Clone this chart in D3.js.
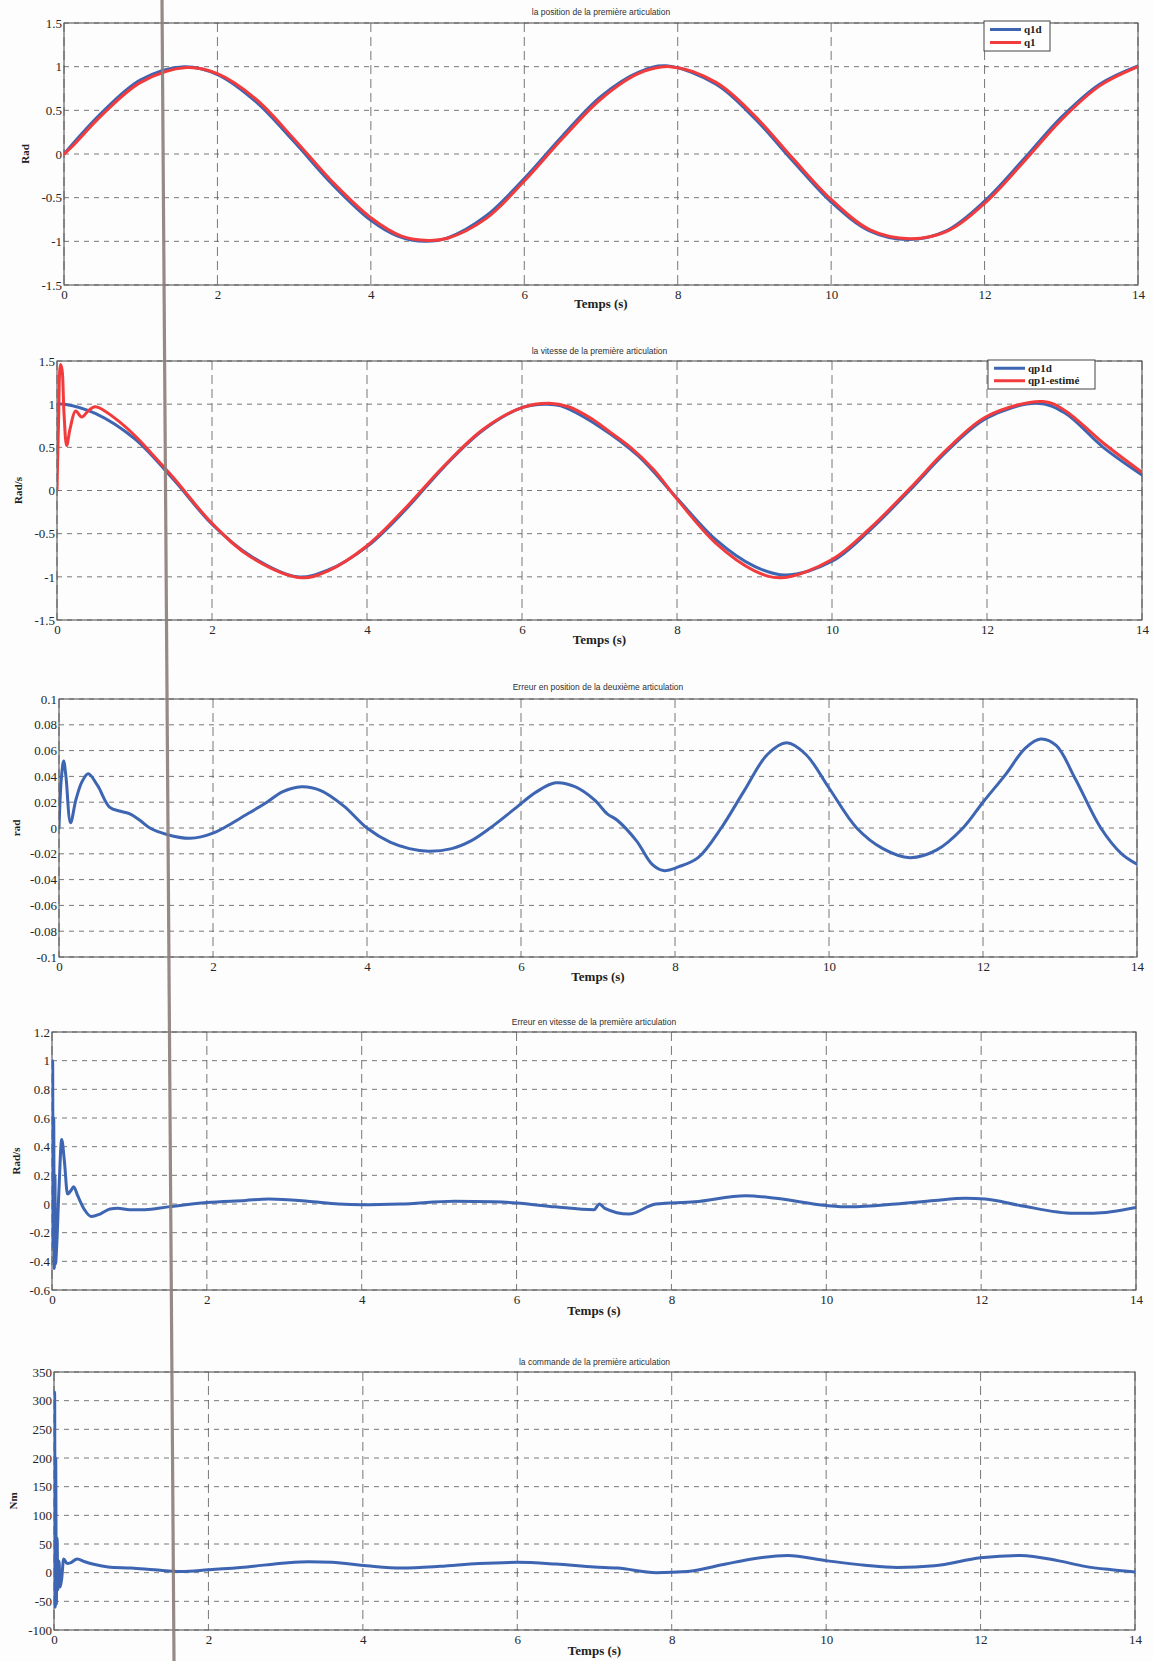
<!DOCTYPE html>
<html>
<head>
<meta charset="utf-8">
<script src="https://cdn.jsdelivr.net/npm/d3@7"></script>
<style>
  body { margin: 0; background: #fdfdfd; }
  svg { display: block; }
  .tick text { font-family: "Liberation Serif", "Times New Roman", serif; font-size: 13px; fill: #262626; }
</style>
</head>
<body>
<div class="visualization"></div>
<script>
// ---- data ----
const timeTicks = [0, 2, 4, 6, 8, 10, 12, 14];
const radTicks = [-1.5, -1, -0.5, 0, 0.5, 1, 1.5];
const errPosTicks = [-0.1, -0.08, -0.06, -0.04, -0.02, 0, 0.02, 0.04, 0.06, 0.08, 0.1];
const errVelTicks = [-0.6, -0.4, -0.2, 0, 0.2, 0.4, 0.6, 0.8, 1, 1.2];
const torqueTicks = [-100, -50, 0, 50, 100, 150, 200, 250, 300, 350];

// position premiere articulation
const q1dT = [0, 0.5, 1, 1.57, 2, 2.5, 3, 3.5, 4, 4.35, 4.71, 5, 5.5, 6, 6.5, 7, 7.5, 7.85, 8.5, 9, 9.5, 10, 10.5, 11, 11.5, 12, 12.5, 13, 13.5, 14];
const q1dV = [0, 0.48, 0.85, 1.0, 0.91, 0.6, 0.14, -0.35, -0.76, -0.94, -1.0, -0.96, -0.71, -0.28, 0.21, 0.66, 0.94, 1.01, 0.8, 0.41, -0.08, -0.55, -0.88, -0.98, -0.88, -0.54, -0.07, 0.42, 0.8, 1.01];
const q1T = [0, 0.1, 0.5, 1, 1.6, 2, 2.5, 3, 3.5, 4, 4.4, 4.75, 5, 5.5, 6, 6.5, 7, 7.5, 7.9, 8.5, 9, 9.5, 10, 10.5, 11.03, 11.5, 12, 12.5, 13, 13.5, 14];
const q1V = [0, 0.08, 0.45, 0.82, 0.99, 0.92, 0.63, 0.17, -0.32, -0.73, -0.94, -0.99, -0.965, -0.74, -0.31, 0.18, 0.63, 0.925, 1.0, 0.82, 0.44, -0.05, -0.52, -0.865, -0.97, -0.89, -0.565, -0.1, 0.39, 0.78, 1.0];

// vitesse premiere articulation
const qp1dT = [0, 0.1, 0.5, 1, 1.5, 2, 2.5, 3.1, 3.5, 4, 4.5, 5, 5.5, 6, 6.3, 6.5, 7, 7.5, 8, 8.5, 9, 9.4, 10, 10.5, 11, 11.5, 12, 12.65, 13, 13.5, 14];
const qp1dV = [1.0, 1.0, 0.89, 0.6, 0.13, -0.39, -0.76, -1.0, -0.92, -0.65, -0.22, 0.28, 0.7, 0.96, 1.0, 0.98, 0.74, 0.4, -0.09, -0.57, -0.88, -0.98, -0.82, -0.45, 0.0, 0.47, 0.84, 1.01, 0.9, 0.5, 0.18];
const qp1eT = [0, 0.02, 0.045, 0.065, 0.09, 0.125, 0.17, 0.24, 0.32, 0.4, 0.49, 0.6, 0.8, 1.0, 1.2, 1.5, 2, 2.5, 3.15, 3.5, 4, 4.5, 5, 5.5, 6, 6.35, 6.6, 6.9, 7.1, 7.4, 7.7, 8, 8.5, 9, 9.35, 10, 10.5, 11, 11.5, 12, 12.72, 13, 13.5, 14];
const qp1eV = [0, 0.8, 1.46, 1.4, 0.9, 0.52, 0.72, 0.92, 0.85, 0.92, 0.97, 0.93, 0.8, 0.64, 0.45, 0.15, -0.38, -0.77, -1.01, -0.93, -0.64, -0.2, 0.29, 0.71, 0.96, 1.01, 0.97, 0.83, 0.7, 0.5, 0.24, -0.1, -0.61, -0.93, -1.01, -0.8, -0.43, 0.02, 0.49, 0.86, 1.03, 0.93, 0.55, 0.21];

// erreur en position
const errPosT = [0, 0.03, 0.06, 0.09, 0.15, 0.22, 0.3, 0.38, 0.5, 0.66, 0.8, 0.92, 1.05, 1.18, 1.4, 1.7, 2.0, 2.45, 2.7, 2.9, 3.15, 3.4, 3.7, 4.0, 4.3, 4.55, 4.8, 5.1, 5.35, 5.6, 5.9, 6.2, 6.45, 6.7, 6.95, 7.12, 7.25, 7.5, 7.7, 7.85, 8.05, 8.3, 8.6, 8.9, 9.2, 9.45, 9.7, 10.0, 10.36, 10.7, 11.05, 11.4, 11.74, 12.0, 12.3, 12.55, 12.75, 12.95, 13.2, 13.53, 13.8, 14];
const errPosV = [0, 0.038, 0.052, 0.04, 0.004, 0.022, 0.036, 0.042, 0.033, 0.016, 0.013, 0.011, 0.006, 0.0, -0.005, -0.008, -0.004, 0.011, 0.02, 0.028, 0.032, 0.029, 0.017, 0.0, -0.011, -0.016, -0.018, -0.016, -0.01, 0.0, 0.014, 0.028, 0.035, 0.032, 0.022, 0.011, 0.006, -0.01, -0.028, -0.033, -0.03, -0.023, 0.0, 0.029, 0.057, 0.066, 0.057, 0.031, 0.0, -0.016, -0.023, -0.017, 0.0, 0.02, 0.042, 0.062, 0.069, 0.064, 0.038, 0.0, -0.02, -0.028];

// erreur en vitesse
const errVelT = [0, 0.008, 0.015, 0.022, 0.03, 0.038, 0.045, 0.06, 0.09, 0.125, 0.16, 0.2, 0.24, 0.28, 0.33, 0.42, 0.51, 0.62, 0.75, 0.85, 1.0, 1.2, 1.5, 2.0, 2.5, 2.8, 3.3, 3.7, 4.0, 4.5, 5.2, 5.7, 6.0, 6.5, 7.0, 7.07, 7.14, 7.45, 7.8, 8.3, 8.96, 9.35, 10.0, 10.3, 10.9, 11.4, 11.8, 12.05, 12.5, 13.2, 13.45, 14];
const errVelV = [0, 1.0, -0.3, 0.6, -0.45, 0.2, -0.42, -0.3, 0.1, 0.45, 0.3, 0.07, 0.09, 0.12, 0.06, -0.04, -0.088, -0.07, -0.035, -0.03, -0.04, -0.04, -0.02, 0.01, 0.025, 0.035, 0.02, 0.0, -0.005, 0.0, 0.02, 0.015, 0.007, -0.02, -0.04, 0.0, -0.03, -0.07, 0.0, 0.015, 0.058, 0.04, -0.01, -0.02, 0.0, 0.025, 0.04, 0.035, -0.01, -0.065, -0.065, -0.025];

// commande
const torqueT = [0, 0.008, 0.015, 0.022, 0.03, 0.04, 0.05, 0.065, 0.08, 0.1, 0.125, 0.17, 0.21, 0.3, 0.4, 0.5, 0.7, 1.0, 1.3, 1.65, 2.0, 2.5, 3.0, 3.3, 3.6, 4.05, 4.5, 5.0, 5.5, 6.0, 6.5, 7.0, 7.3, 7.8, 8.2, 8.7, 9.0, 9.5, 10.0, 10.5, 10.92, 11.4, 12.0, 12.52, 13.0, 13.35, 13.7, 14];
const torqueV = [0, 315, -60, 200, -55, 60, -30, 20, -25, -10, 24, 16, 17, 24, 19, 15, 10, 8, 5, 2, 5, 10, 17, 19, 18, 12, 8, 11, 16, 18, 15, 10, 8, 0, 2, 15, 23, 30, 21, 13, 9, 12, 26, 30, 21, 11, 5, 1];

const BLUE = '#3d65b2';
const RED = '#f23b3d';

const smooth = d3.curveCatmullRom.alpha(0.5);
const spiky = d3.curveMonotoneX;

const panels = [
    {title: 'la position de la première articulation', ylabel: 'Rad', yTicks: radTicks, curve: smooth,
     box: {left: 64, right: 1138, top: 23, bottom: 285}, titleY: 15, xlabelY: 308, ylabelX: 25,
     series: [{t: q1dT, v: q1dV, color: BLUE, name: 'q1d'}, {t: q1T, v: q1V, color: RED, name: 'q1'}],
     legend: {x: 984, y: 21, w: 66, h: 30}},
    {title: 'la vitesse de la première articulation', ylabel: 'Rad/s', yTicks: radTicks, curve: smooth,
     box: {left: 57, right: 1142, top: 361, bottom: 620}, titleY: 354, xlabelY: 644, ylabelX: 18,
     series: [{t: qp1dT, v: qp1dV, color: BLUE, name: 'qp1d'}, {t: qp1eT, v: qp1eV, color: RED, name: 'qp1-estimé'}],
     legend: {x: 988, y: 360, w: 107, h: 29}},
    {title: 'Erreur en position de la deuxième articulation', ylabel: 'rad', yTicks: errPosTicks, curve: smooth,
     box: {left: 59, right: 1137, top: 699, bottom: 957}, titleY: 690, xlabelY: 981, ylabelX: 16,
     series: [{t: errPosT, v: errPosV, color: BLUE}]},
    {title: 'Erreur en vitesse de la première articulation', ylabel: 'Rad/s', yTicks: errVelTicks, curve: spiky,
     box: {left: 52, right: 1136, top: 1032, bottom: 1290}, titleY: 1025, xlabelY: 1315, ylabelX: 16,
     series: [{t: errVelT, v: errVelV, color: BLUE}]},
    {title: 'la commande de la première articulation', ylabel: 'Nm', yTicks: torqueTicks, curve: spiky,
     box: {left: 54, right: 1135, top: 1372, bottom: 1630}, titleY: 1365, xlabelY: 1655, ylabelX: 13,
     series: [{t: torqueT, v: torqueV, color: BLUE}]}
];

const W = 1153, H = 1661;
const svg = d3.select('.visualization').append('svg')
    .attr('width', W)
    .attr('height', H);

const fmt = d => String(+d.toFixed(2));

panels.forEach((p, i) => {
    const b = p.box;
    const x = d3.scaleLinear().domain([0, 14]).range([b.left, b.right]);
    const y = d3.scaleLinear().domain(d3.extent(p.yTicks)).range([b.bottom, b.top]);
    const g = svg.append('g').attr('class', 'panel');

    // grid
    g.append('g')
        .selectAll('line')
        .data(p.yTicks)
        .enter().append('line')
        .attr('x1', b.left).attr('x2', b.right)
        .attr('y1', d => y(d)).attr('y2', d => y(d))
        .style('stroke', '#555')
        .style('stroke-width', 0.8)
        .style('stroke-dasharray', '5,5');
    g.append('g')
        .selectAll('line')
        .data(timeTicks)
        .enter().append('line')
        .attr('y1', b.top).attr('y2', b.bottom)
        .attr('x1', d => x(d)).attr('x2', d => x(d))
        .style('stroke', '#555')
        .style('stroke-width', 0.8)
        .style('stroke-dasharray', '9,5');

    // axes
    const xAxis = g.append('g')
        .attr('transform', `translate(0,${b.bottom})`)
        .call(d3.axisBottom(x).tickValues(timeTicks).tickFormat(fmt).tickSize(0).tickPadding(5));
    const yAxis = g.append('g')
        .attr('transform', `translate(${b.left},0)`)
        .call(d3.axisLeft(y).tickValues(p.yTicks).tickFormat(fmt).tickSize(0).tickPadding(2));
    xAxis.select('.domain').remove();
    yAxis.select('.domain').remove();

    // frame
    g.append('rect')
        .attr('x', b.left).attr('y', b.top)
        .attr('width', b.right - b.left).attr('height', b.bottom - b.top)
        .style('fill', 'none')
        .style('stroke', '#555')
        .style('stroke-width', 1.1);

    // curves
    const clipId = 'clip' + i;
    g.append('clipPath').attr('id', clipId)
        .append('rect')
        .attr('x', b.left).attr('y', b.top - 2)
        .attr('width', b.right - b.left).attr('height', b.bottom - b.top + 4);
    const line = d3.line()
        .x(d => x(d[0]))
        .y(d => y(d[1]))
        .curve(p.curve);
    g.append('g').attr('clip-path', `url(#${clipId})`)
        .selectAll('path')
        .data(p.series)
        .enter().append('path')
        .attr('d', s => line(d3.zip(s.t, s.v)))
        .style('fill', 'none')
        .style('stroke', s => s.color)
        .style('stroke-width', 3)
        .style('stroke-linejoin', 'round')
        .style('stroke-linecap', 'round');

    // title and labels
    g.append('text')
        .text(p.title)
        .attr('x', (b.left + b.right) / 2)
        .attr('y', p.titleY)
        .style('text-anchor', 'middle')
        .style('font-family', '"Liberation Sans", Arial, sans-serif')
        .style('font-size', '8.5px')
        .style('fill', '#303030');
    g.append('text')
        .text('Temps (s)')
        .attr('x', (b.left + b.right) / 2)
        .attr('y', p.xlabelY)
        .style('text-anchor', 'middle')
        .style('font-family', '"Liberation Serif", "Times New Roman", serif')
        .style('font-weight', 'bold')
        .style('font-size', '13px')
        .style('fill', '#222');
    g.append('text')
        .text(p.ylabel)
        .attr('transform', `translate(${p.ylabelX},${(b.top + b.bottom) / 2}) rotate(-90)`)
        .attr('dy', '0.35em')
        .style('text-anchor', 'middle')
        .style('font-family', '"Liberation Serif", "Times New Roman", serif')
        .style('font-weight', 'bold')
        .style('font-size', '11px')
        .style('fill', '#222');

    // legend
    if (p.legend) {
        const L = p.legend;
        const lg = g.append('g').attr('class', 'legend');
        lg.append('rect')
            .attr('x', L.x).attr('y', L.y)
            .attr('width', L.w).attr('height', L.h)
            .style('fill', '#fff')
            .style('stroke', '#444')
            .style('stroke-width', 1);
        const rowH = (L.h - 4) / 2;
        const rows = lg.selectAll('g.row')
            .data(p.series)
            .enter().append('g')
            .attr('class', 'row')
            .attr('transform', (s, k) => `translate(${L.x},${L.y + 2 + rowH * (k + 0.5)})`);
        rows.append('line')
            .attr('x1', 6).attr('x2', 37)
            .attr('y1', 0).attr('y2', 0)
            .style('stroke', s => s.color)
            .style('stroke-width', 3);
        rows.append('text')
            .text(s => s.name)
            .attr('x', 40)
            .attr('dy', '0.33em')
            .style('font-family', '"Liberation Serif", "Times New Roman", serif')
            .style('font-weight', 'bold')
            .style('font-size', '11px')
            .style('fill', '#222');
    }
});

// fold mark of the scanned page
svg.append('line')
    .attr('x1', 162).attr('y1', 0)
    .attr('x2', 174).attr('y2', H)
    .style('stroke', '#8c7d79')
    .style('stroke-width', 3.2)
    .style('opacity', 0.9);
</script>
</body>
</html>
